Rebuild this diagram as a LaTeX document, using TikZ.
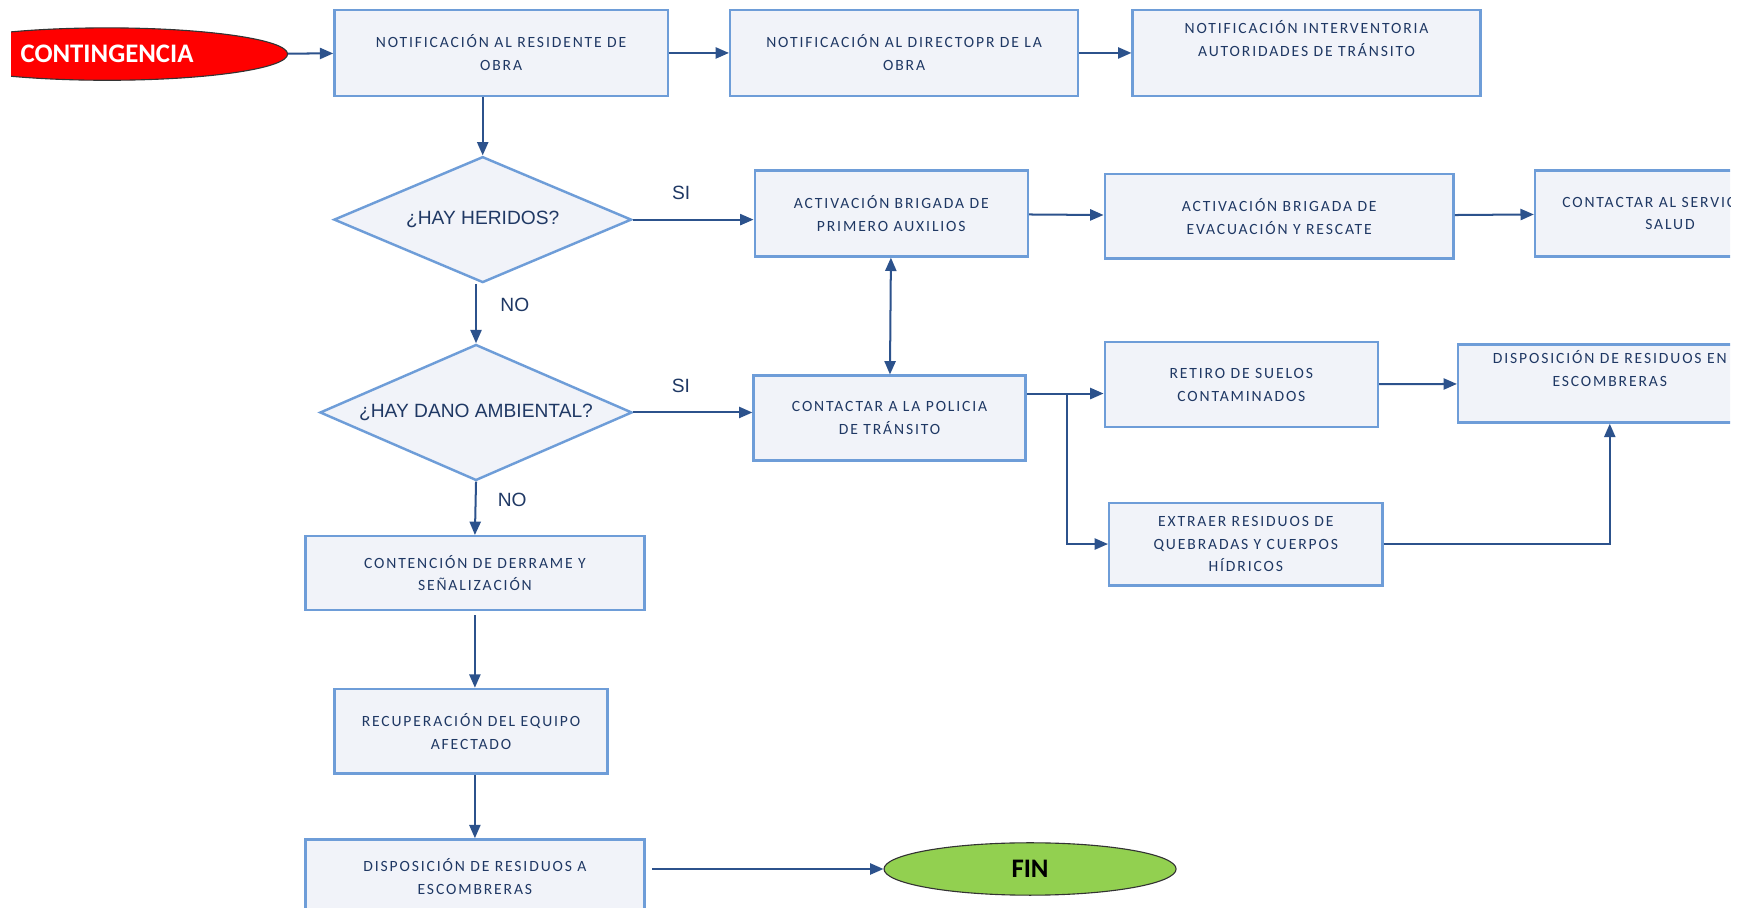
\documentclass[tikz,border=0pt]{standalone}
\usepackage{fontspec}
\setmainfont{Carlito}
\newfontfamily\cajafont[LetterSpace=12]{Carlito}
\newfontfamily\rombofont{Liberation Sans}
\usetikzlibrary{shapes.geometric,arrows.meta,calc}
\definecolor{borde}{RGB}{110,157,216}
\definecolor{relleno}{RGB}{241,243,249}
\definecolor{texto}{RGB}{31,56,100}
\definecolor{flecha}{RGB}{44,82,140}
\definecolor{rojo}{RGB}{255,0,0}
\definecolor{verde}{RGB}{146,208,80}
\begin{document}
\begin{tikzpicture}[x=1pt,y=-1pt,
    caja/.style={draw=borde, line width=2.2pt, fill=relleno, text=texto, align=center,
      inner sep=0pt, font=\cajafont\fontsize{14}{20.5}\selectfont},
    rombo/.style={diamond, aspect=2.4, draw=borde, line width=2.2pt, fill=relleno, text=texto,
      inner sep=0pt, font=\rombofont\fontsize{17.2}{20}\selectfont},
    elipse/.style={ellipse, draw=black!80, line width=1pt, inner sep=0pt,
      minimum height=47pt, font=\bfseries\fontsize{24}{24}\selectfont},
    flecha/.style={draw=flecha, line width=1.8pt, -{Triangle[length=12pt,width=10pt]}},
    etiqueta/.style={text=texto, inner sep=0pt, font=\rombofont\fontsize{17.2}{20}\selectfont}]
    \useasboundingbox (0,0) rectangle (1568,814);
    \begin{scope}
        \clip (10,-5) rectangle (1552,814);
        % Nodos
        \node[elipse, fill=rojo, minimum width=324pt, text=white] (contingencia) at (96,48.5) {CONTINGENCIA};
        \node[caja, minimum width=299pt, minimum height=77pt] (residente) at (449.5,47.5) {NOTIFICACIÓN AL RESIDENTE DE\\OBRA};
        \node[caja, minimum width=312pt, minimum height=77pt] (director) at (811,47.5) {NOTIFICACIÓN AL DIRECTOPR DE LA\\OBRA};
        \node[caja, minimum width=312pt, minimum height=77pt] (interventoria) at (1172,47.5) {NOTIFICACIÓN INTERVENTORIA\\AUTORIDADES DE TRÁNSITO\\\strut};
        \node[rombo, minimum width=267pt, minimum height=113pt] (heridos) at (433,197) {¿HAY HERIDOS?};
        \node[caja, minimum width=245pt, minimum height=77pt] (primeros) at (799.5,191.5) {ACTIVACIÓN BRIGADA DE\\PRIMERO AUXILIOS};
        \node[caja, minimum width=313pt, minimum height=76pt] (evacuacion) at (1147.5,194) {ACTIVACIÓN BRIGADA DE\\EVACUACIÓN Y RESCATE};
        \node[caja, minimum width=242pt, minimum height=77pt] (salud) at (1498,191.5) {CONTACTAR AL SERVICIO DE\\SALUD};
        \node[rombo, minimum width=280pt, minimum height=122pt] (ambiental) at (427,370) {¿HAY DANO AMBIENTAL?};
        \node[caja, minimum width=244pt, minimum height=76pt] (policia) at (798,375) {CONTACTAR A LA POLICIA\\DE TRÁNSITO};
        \node[caja, minimum width=245pt, minimum height=76pt] (suelos) at (1113.5,345) {RETIRO DE SUELOS\\CONTAMINADOS};
        \node[caja, minimum width=272pt, minimum height=70pt] (escombreras) at (1444,344) {DISPOSICIÓN DE RESIDUOS EN\\ESCOMBRERAS\\\strut};
        \node[caja, minimum width=245pt, minimum height=74pt] (quebradas) at (1117.5,488) {EXTRAER RESIDUOS DE\\QUEBRADAS Y CUERPOS\\HÍDRICOS};
        \node[caja, minimum width=304pt, minimum height=66pt] (derrame) at (426,514) {CONTENCIÓN DE DERRAME Y\\SEÑALIZACIÓN};
        \node[caja, minimum width=245pt, minimum height=76pt] (equipo) at (422.5,656) {RECUPERACIÓN DEL EQUIPO\\AFECTADO};
        \node[caja, minimum width=304pt, minimum height=66pt] (residuos) at (426,786) {DISPOSICIÓN DE RESIDUOS A\\ESCOMBRERAS};
        \node[elipse, fill=verde, minimum width=262pt] (fin) at (924,779.5) {FIN};
        % Flechas
        \draw[flecha] (contingencia) -- (residente);
        \draw[flecha] (residente) -- (director);
        \draw[flecha] (director) -- (interventoria);
        \draw[flecha] (heridos.north |- residente.south) -- (heridos.north);
        \draw[flecha] (heridos.east) -- (heridos.east -| primeros.west) node[etiqueta, pos=0.4, above=17pt] {SI};
        \draw[flecha] (ambiental.north |- heridos.south) -- (ambiental.north) node[etiqueta, pos=0.35, right=21pt] {NO};
        \draw[flecha] (primeros) -- (evacuacion);
        \draw[flecha] (evacuacion) -- (salud);
        \draw[flecha, {Triangle[length=12pt,width=10pt]}-{Triangle[length=12pt,width=10pt]}] (primeros) -- (policia);
        \draw[flecha] (ambiental.east) -- (ambiental.east -| policia.west) node[etiqueta, pos=0.4, above=17pt] {SI};
        \coordinate (rama) at (957,353);
        \draw[flecha] (rama -| policia.east) -- (rama -| suelos.west);
        \draw[flecha] (rama) |- (quebradas.west);
        \draw[flecha] (suelos) -- (escombreras);
        \draw[flecha] (quebradas.east) -| (escombreras.south);
        \draw[flecha] (ambiental.south) -- (derrame.north) node[etiqueta, pos=0.34, right=19pt] {NO};
        \draw[flecha, shorten <=4pt] (derrame.south) -- (derrame.south |- equipo.north);
        \draw[flecha] (derrame.south |- equipo.south) -- (derrame.south |- residuos.north);
        \draw[flecha, shorten <=6pt] (fin.west -| residuos.east) -- (fin.west);
    \end{scope}
\end{tikzpicture}
\end{document}
